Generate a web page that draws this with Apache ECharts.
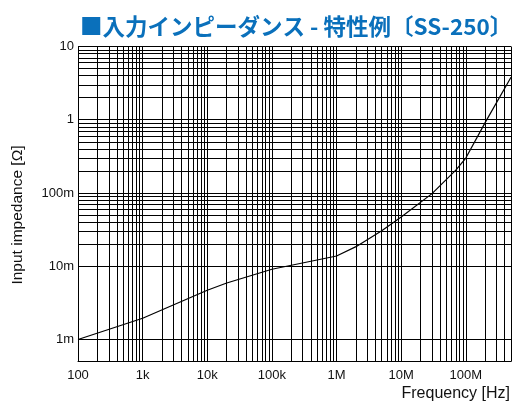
<!DOCTYPE html>
<html>
<head>
<meta charset="utf-8">
<script src="https://cdn.jsdelivr.net/npm/echarts@6/dist/echarts.min.js"></script>
<style>
  html, body { margin: 0; padding: 0; background: #fff; }
  #chart { width: 514px; height: 402px; }
</style>
</head>
<body>
<div id="chart"></div>
<script>
// Input impedance of SS-250 versus frequency
const freqHz = [100, 1e3, 1e4, 2e4, 1e5, 1e6, 2e6, 5e6, 1e7, 3e7, 7e7, 1e8, 2e8, 5e8];
const impedanceOhm = [0.001, 0.00195, 0.0047, 0.0059, 0.0091, 0.0138, 0.0185, 0.0305, 0.047, 0.098, 0.205, 0.30, 0.92, 3.8];

// Decade tick labels
const xTickValues = [100, 1e3, 1e4, 1e5, 1e6, 1e7, 1e8];
const xTickLabels = ['100', '1k', '10k', '100k', '1M', '10M', '100M'];
const yTickValues = [1e-3, 1e-2, 1e-1, 1, 10];
const yTickLabels = ['1m', '10m', '100m', '1', '10'];

// Axis ranges
const xRange = [100, 5e8];
const yRange = [0.0005, 10];

// Intermediate (2..9 x decade) grid values inside a range
function minorValues(lo, hi) {
  const out = [];
  const d0 = Math.floor(Math.log10(lo));
  const d1 = Math.ceil(Math.log10(hi));
  for (let d = d0; d <= d1; d++) {
    for (let m = 2; m <= 9; m++) {
      const v = m * Math.pow(10, d);
      if (v > lo * 1.0001 && v < hi * 0.9999) out.push(v);
    }
  }
  return out;
}
const xMinor = minorValues(xRange[0], xRange[1]);
const yMinor = minorValues(yRange[0], yRange[1]);

function labelFor(values, labels) {
  return function (v) {
    for (let i = 0; i < values.length; i++) {
      if (Math.abs(Math.log10(v) - Math.log10(values[i])) < 1e-6) return labels[i];
    }
    return '';
  };
}

const gridLine = { color: '#000', width: 1, type: 'solid' };
const labelFont = { color: '#111', fontSize: 13, fontFamily: 'Liberation Sans, Arial, sans-serif' };

const chart = echarts.init(document.getElementById('chart'), null, { renderer: 'canvas' });
chart.setOption({
  animation: false,
  backgroundColor: '#fff',
  title: {
    text: '■入力インピーダンス - 特性例〔SS-250〕',
    left: 75,
    top: 10,
    textStyle: {
      color: '#0a70bb',
      fontSize: 22.5,
      fontWeight: 'bold',
      fontFamily: 'Noto Sans CJK JP, sans-serif'
    }
  },
  grid: { left: 78, top: 46.5, width: 439, height: 315 },
  xAxis: {
    type: 'log',
    logBase: 10,
    min: xRange[0],
    max: xRange[1],
    splitNumber: 7,
    name: 'Frequency [Hz]',
    nameLocation: 'end',
    nameGap: -1,
    nameTextStyle: {
      color: '#111', fontSize: 16, fontFamily: 'Liberation Sans, Arial, sans-serif',
      align: 'right', verticalAlign: 'top', padding: [24, 0, 0, 0]
    },
    axisLine: { show: true, lineStyle: { color: '#000', width: 1 } },
    axisTick: { show: false },
    axisLabel: Object.assign({ margin: 7, formatter: labelFor(xTickValues, xTickLabels) }, labelFont),
    splitLine: { show: true, lineStyle: gridLine }
  },
  yAxis: {
    type: 'log',
    logBase: 10,
    min: yRange[0],
    max: yRange[1],
    splitNumber: 4,
    name: 'Input impedance [Ω]',
    nameLocation: 'middle',
    nameGap: 52,
    nameTextStyle: {
      color: '#111', fontSize: 15.5, fontFamily: 'Liberation Sans, Arial, sans-serif',
      padding: [0, 22, 0, 0]
    },
    axisLine: { show: true, lineStyle: { color: '#000', width: 1 } },
    axisTick: { show: false },
    axisLabel: Object.assign({ margin: 4, formatter: labelFor(yTickValues, yTickLabels) }, labelFont),
    splitLine: { show: true, lineStyle: gridLine }
  },
  series: [{
    type: 'line',
    data: freqHz.map((f, i) => [f, impedanceOhm[i]]),
    showSymbol: false,
    symbol: 'none',
    smooth: false,
    lineStyle: { color: '#000', width: 1.2 },
    z: 5,
    markLine: {
      silent: true,
      symbol: ['none', 'none'],
      label: { show: false },
      lineStyle: gridLine,
      emphasis: { disabled: true },
      data: xMinor.map(v => ({ xAxis: v })).concat(yMinor.map(v => ({ yAxis: v })))
    }
  }]
});
</script>
</body>
</html>
